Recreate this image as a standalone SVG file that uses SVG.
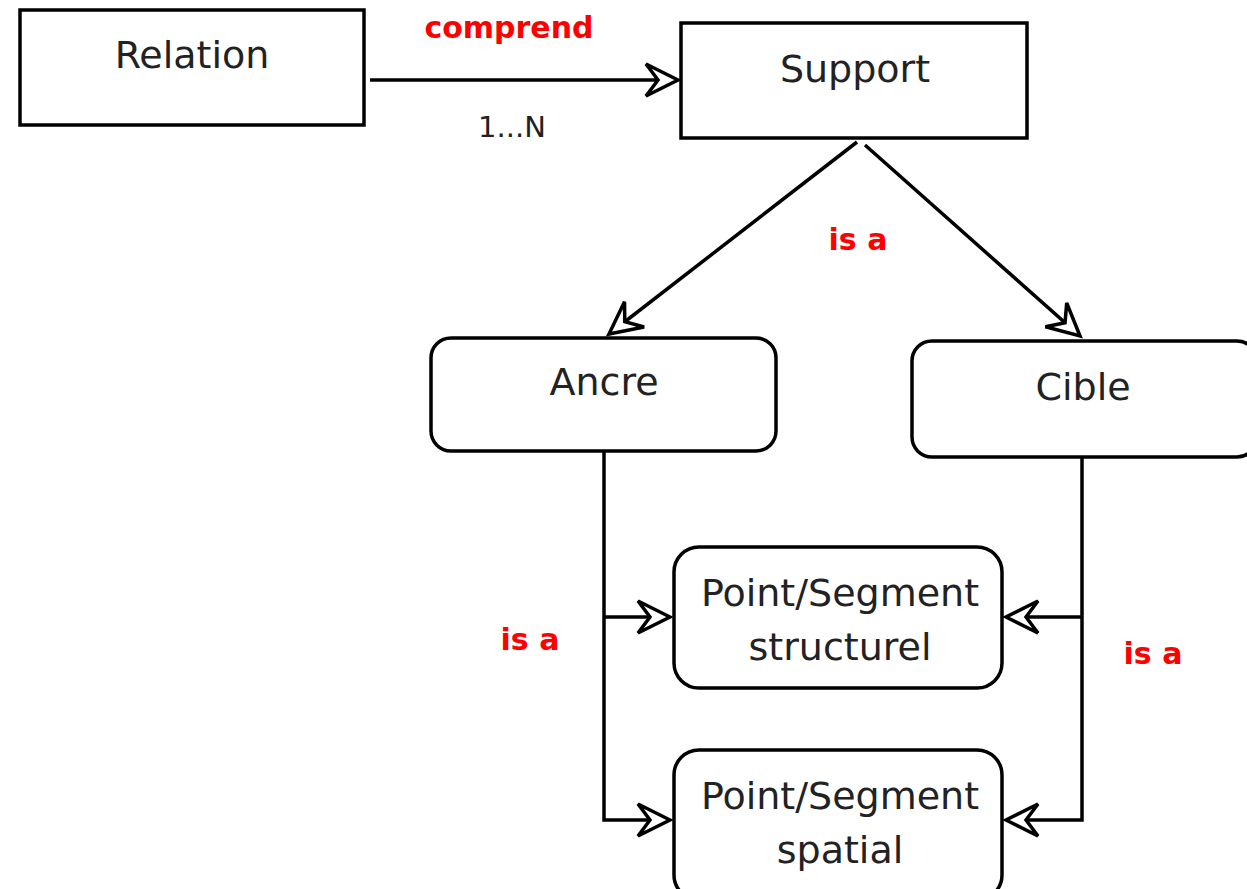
<svg xmlns="http://www.w3.org/2000/svg" width="1247" height="889" viewBox="0 0 1247 889">
<style>
.box{fill:#fff;stroke:#000;stroke-width:3.5}
.lbl{font-family:"DejaVu Sans",sans-serif;font-size:38px;fill:#222;text-anchor:middle}
.red{font-family:"DejaVu Sans",sans-serif;font-weight:bold;font-size:30px;fill:#ff0000;text-anchor:middle}
.card{font-family:"DejaVu Sans",sans-serif;font-size:29px;fill:#222;text-anchor:middle}
.ln{fill:none;stroke:#000;stroke-width:3.5}
</style>
<defs>
<marker id="ah" markerUnits="userSpaceOnUse" viewBox="-40 -22 44 44" refX="0" refY="0" markerWidth="44" markerHeight="44" orient="auto">
<path d="M0,0 L-32,-16 L-20,0 L-32,16 Z" fill="#fff" stroke="#000" stroke-width="3.5" stroke-linejoin="miter"/>
</marker>
</defs>
<rect width="1247" height="889" fill="#fff"/>
<g id="connectors">
<line class="ln" x1="370" y1="80" x2="678" y2="80" marker-end="url(#ah)"/>
<line class="ln" x1="857" y1="142" x2="609" y2="334" marker-end="url(#ah)"/>
<line class="ln" x1="865" y1="145" x2="1080" y2="336" marker-end="url(#ah)"/>
<polyline class="ln" points="604,452 604,820 670,820" marker-end="url(#ah)"/>
<line class="ln" x1="604" y1="617" x2="670" y2="617" marker-end="url(#ah)"/>
<polyline class="ln" points="1082,457 1082,820 1006,820" marker-end="url(#ah)"/>
<line class="ln" x1="1082" y1="617" x2="1006" y2="617" marker-end="url(#ah)"/>
<text class="red" x="509" y="38">comprend</text>
<text class="card" x="512" y="137">1...N</text>
<text class="red" x="858" y="250">is a</text>
<text class="red" x="530" y="650">is a</text>
<text class="red" x="1153" y="664">is a</text>
</g>
<g id="relation">
<rect class="box" x="20" y="10" width="344" height="115"/>
<text class="lbl" x="192" y="68">Relation</text>
</g>
<g id="support">
<rect class="box" x="681" y="23" width="346" height="115"/>
<text class="lbl" x="855" y="82">Support</text>
</g>
<g id="ancre">
<rect class="box" x="431" y="338" width="345" height="113" rx="20"/>
<text class="lbl" x="604" y="395">Ancre</text>
</g>
<g id="cible">
<rect class="box" x="912" y="341" width="345" height="116" rx="20"/>
<text class="lbl" x="1083" y="400">Cible</text>
</g>
<g id="ps-structurel">
<rect class="box" x="674" y="547" width="328" height="141" rx="25"/>
<text class="lbl" x="840" y="606">Point/Segment</text>
<text class="lbl" x="840" y="660">structurel</text>
</g>
<g id="ps-spatial">
<rect class="box" x="674" y="750" width="328" height="150" rx="25"/>
<text class="lbl" x="840" y="809">Point/Segment</text>
<text class="lbl" x="840" y="863">spatial</text>
</g>
</svg>
